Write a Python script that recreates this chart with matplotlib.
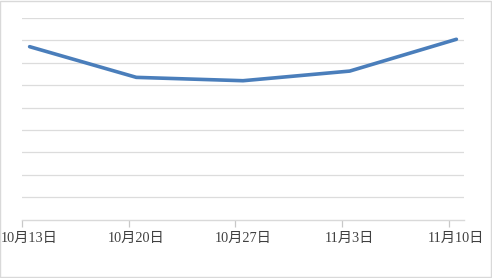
import matplotlib.pyplot as plt
from matplotlib.patches import Rectangle

# weekly dates (days since 10/13) and values
days = [0, 7, 14, 21, 28]
values = [7.72, 6.35, 6.2, 6.63, 8.05]
tick_labels = ['10月13日', '10月20日', '10月27日', '11月3日', '11月10日']

fig = plt.figure(figsize=(4.92, 2.78), dpi=100)
ax = fig.add_axes([22 / 492, (278 - 219.6) / 278, 442 / 492, 201.6 / 278])

# Excel date axis: each point sits in the middle of its day
mid = [d + 0.5 for d in days]
ax.plot(mid, values, color='#4A7EBB', linewidth=2.6,
        solid_capstyle='round', zorder=3)

ax.set_xlim(0, 29)
ax.set_ylim(0, 9)
ax.set_yticks(range(1, 10))
ax.yaxis.grid(True, color='#dcdcdc', linewidth=0.9)
ax.tick_params(axis='y', left=False, labelleft=False)

# tick marks at day starts, labels centred on the day
ax.set_xticks(days)
ax.set_xticklabels([])
ax.tick_params(axis='x', which='major', direction='out', length=5, width=0.9,
               color='#c8c8c8')
ax.set_xticks(mid, minor=True)
ax.set_xticklabels(tick_labels, minor=True,
                   family=['Liberation Serif', 'Noto Sans CJK SC'],
                   fontsize=10.3, color='#404040')
ax.tick_params(axis='x', which='minor', length=0, pad=9)

for side in ['top', 'right', 'left']:
    ax.spines[side].set_visible(False)
ax.spines['bottom'].set_color('#d9d9d9')
ax.spines['bottom'].set_linewidth(1.0)

# light frame around the chart
fig.patches.append(Rectangle((0.001, 0.002), 0.997, 0.995, transform=fig.transFigure,
                             fill=False, edgecolor='#d9d9d9', linewidth=1.0))

fig.savefig('out.png', dpi=100)
